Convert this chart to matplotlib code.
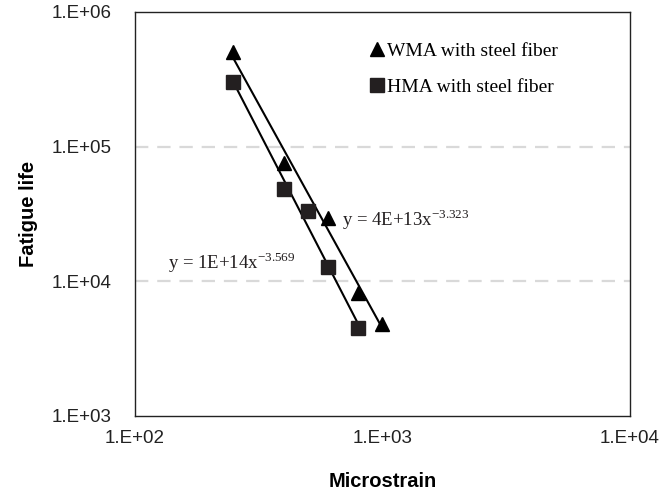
import numpy as np
import matplotlib
matplotlib.use("Agg")
import matplotlib.pyplot as plt
from matplotlib.ticker import FixedLocator, FuncFormatter, NullLocator

# 数据
wma_strain = [250, 400, 600, 800, 1000]
wma_life = [5.0e5, 7.5e4, 2.96e4, 8.2e3, 4.8e3]
hma_strain = [250, 400, 500, 600, 800]
hma_life = [3.0e5, 4.8e4, 3.3e4, 1.28e4, 4.5e3]

wma_label = "WMA with steel fiber"
hma_label = "HMA with steel fiber"
wma_eq = r"y = 4E+13x$^{\mathregular{-3.323}}$"
hma_eq = r"y = 1E+14x$^{\mathregular{-3.569}}$"

x_ticks = [1e2, 1e3, 1e4]
y_ticks = [1e3, 1e4, 1e5, 1e6]

plt.rcParams['font.family'] = ['Liberation Sans', 'DejaVu Sans']
plt.rcParams['mathtext.fontset'] = 'custom'
plt.rcParams['mathtext.rm'] = 'Liberation Serif'


def power_fit(x, y):
    # 幂函数趋势线 (对数空间线性拟合)
    b, a = np.polyfit(np.log10(x), np.log10(y), 1)
    xs = np.logspace(np.log10(min(x)), np.log10(max(x)), 50)
    return xs, 10 ** a * xs ** b


fig = plt.figure(figsize=(6.7, 4.94), dpi=100)
ax = fig.add_axes([0.2015, 0.158, 0.7385, 0.818])
ax.set_xscale('log')
ax.set_yscale('log')
ax.set_xlim(1e2, 1e4)
ax.set_ylim(1e3, 1e6)

# 网格线
for yv in [1e4, 1e5]:
    ax.axhline(yv, color='#d9d9d9', linestyle=(0, (6, 4)), linewidth=1.6, zorder=0)

# 趋势线
xs, ys = power_fit(wma_strain, wma_life)
ax.plot(xs, ys, color='black', linewidth=1.5, zorder=2)
xs, ys = power_fit(hma_strain, hma_life)
ax.plot(xs, ys, color='black', linewidth=1.5, zorder=2)

# 数据点
ax.plot(wma_strain, wma_life, linestyle='none', marker='^', markersize=10.5,
        color='black', label=wma_label, zorder=3)
ax.plot(hma_strain, hma_life, linestyle='none', marker='s', markersize=10,
        color='#231f20', label=hma_label, zorder=3)

# 公式
ax.text(0.418, 0.485, wma_eq, fontsize=13.5, family='Liberation Serif',
        va='center', ha='left', color='#231f20', transform=ax.transAxes)
ax.text(0.067, 0.379, hma_eq, fontsize=13.5, family='Liberation Serif',
        va='center', ha='left', color='#231f20', transform=ax.transAxes)

# 图例
ax.legend(loc='upper left', bbox_to_anchor=(0.476, 0.925), frameon=False,
          prop={'family': 'Liberation Serif', 'size': 14},
          handlelength=0.7, handletextpad=0.15, labelspacing=0.95,
          borderaxespad=0, borderpad=0)

# 坐标轴
fmt = FuncFormatter(lambda v, p: "1.E+%02d" % int(round(np.log10(v))))
ax.xaxis.set_major_locator(FixedLocator(x_ticks))
ax.yaxis.set_major_locator(FixedLocator(y_ticks))
ax.xaxis.set_minor_locator(NullLocator())
ax.yaxis.set_minor_locator(NullLocator())
ax.xaxis.set_major_formatter(fmt)
ax.yaxis.set_major_formatter(fmt)
ax.tick_params(axis='both', labelsize=13.5, colors='#222222', length=0, pad=10)
ax.tick_params(axis='y', pad=17)

for sp in ax.spines.values():
    sp.set_color('#222222')
    sp.set_linewidth(1.0)

ax.set_xlabel('Microstrain', fontsize=14.5, fontweight='bold', labelpad=18)
ax.set_ylabel('Fatigue life', fontsize=14.5, fontweight='bold', labelpad=10)

fig.savefig('out.png', dpi=100)
